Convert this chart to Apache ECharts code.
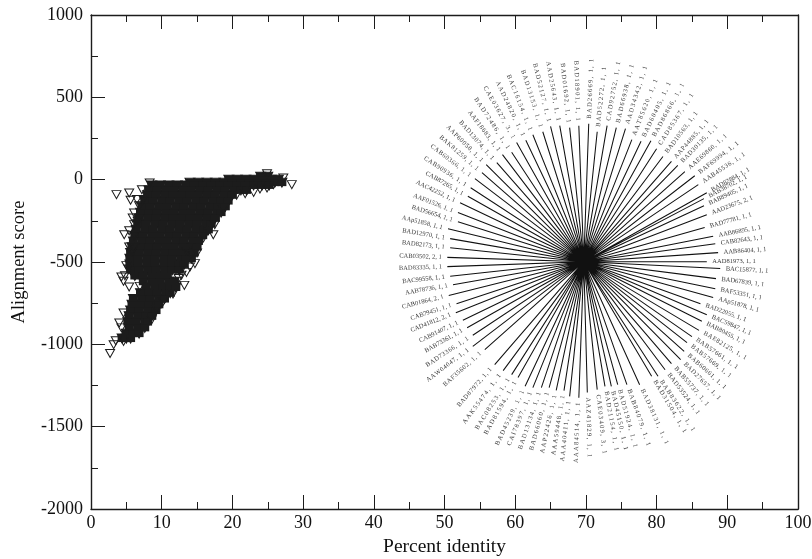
<!DOCTYPE html>
<html><head><meta charset="utf-8">
<style>html,body{margin:0;padding:0;background:#fff}#c{width:812px;height:559px}</style>
<script src="https://cdn.jsdelivr.net/npm/echarts@6/dist/echarts.min.js"></script>
</head><body><div id="c"></div>
<script>
const xTicks=[0,100], yRange=[-2000,1000];
const xTitle='Percent identity', yTitle='Alignment score';
// densely overplotted body of the cloud: row score, then percent identities
const bodyRows=[
[18,[24,25]],
[0,[19.5,20.7,21.9,23.1,24.3,25.5,26.5]],
[-18,[14,15.2,16.4,17.6,18.8,20,21.2,22.4,23.6,24.8,26,27]],
[-35,[8.6,9.8,11,12.2,13.4,14.6,15.8,17,18.2,19.4,20.6,21.8,23,24.2,25.2]],
[-65,[8.2,9.4,10.6,11.8,13,14.2,15.4,16.6,17.8,19,20.2,21.2,22]],
[-95,[8,9.2,10.4,11.6,12.8,14,15.2,16.4,17.6,18.8,20]],
[-130,[7.6,8.8,10,11.2,12.4,13.6,14.8,16,17.2,18.4,19.4]],
[-165,[7.2,8.4,9.6,10.8,12,13.2,14.4,15.6,16.8,18,19]],
[-200,[7,8.2,9.4,10.6,11.8,13,14.2,15.4,16.6,17.8,18.4]],
[-235,[6.8,8,9.2,10.4,11.6,12.8,14,15.2,16.4,17.6]],
[-270,[6.6,7.8,9,10.2,11.4,12.6,13.8,15,16.2,17]],
[-305,[6.4,7.6,8.8,10,11.2,12.4,13.6,14.8,16,16.6]],
[-340,[6.2,7.4,8.6,9.8,11,12.2,13.4,14.6,15.8]],
[-375,[6,7.2,8.4,9.6,10.8,12,13.2,14.4,15.2]],
[-410,[5.8,7,8.2,9.4,10.6,11.8,13,14.2,15]],
[-445,[5.6,6.8,8,9.2,10.4,11.6,12.8,14,14.6]],
[-480,[5.5,6.7,7.9,9.1,10.3,11.5,12.7,13.5,14.2]],
[-515,[5.5,6.7,7.9,9.1,10.3,11.5,12.4,13.2]],
[-550,[5.6,6.8,8,9.2,10.4,11.5,12.5]],
[-585,[6.2,7.4,8.6,9.8,10.8]],
[-620,[7.4,8.6,9.8,11,11.8]],
[-655,[7.8,9,10.2,11.2,12]],
[-690,[7,8.2,9.4,10.6,11.2]],
[-725,[6,7.2,8.4,9.6,10.4]],
[-760,[5.8,7,8.2,9.4,9.6]],
[-795,[5.6,6.8,8,9.2]],
[-830,[5.4,6.6,7.8,8.6]],
[-865,[5.2,6.4,7.6,8]],
[-900,[5.4,6.6,7.6]],
[-935,[5,6,6.8]],
[-965,[4.4,5,5.6]]
];
// separately visible open markers along the edge of the cloud
const edgeX=[3.6,5.4,5.6,6.5,7.2,7.4,8.3,6.8,6.1,5.9,6.6,6.1,4.7,5.4,6.1,5.4,5.8,6.1,5,5.3,4.3,4.6,4.8,5.4,6.9,13.2,13.5,14.7,13.5,14.2,15,17.3,18.7,17.5,15.9,11.6,10.2,8.6,9.3,4,4.3,4.6,2.7,3.2,3.5,4.6,28.4,27.2,24.9,25.8,24.9,23.9,23,21.8,20.6,12.4,14,12.8,16.6];
const edgeY=[-91,-81,-125,-121,-61,-121,-20,-158,-202,-233,-253,-273,-334,-310,-340,-409,-435,-415,-522,-542,-591,-617,-583,-652,-648,-642,-563,-510,-435,-455,-445,-334,-182,-273,-354,-694,-739,-850,-789,-870,-900,-810,-1056,-1002,-978,-982,-30,10,36,-30,-51,-57,-77,-85,-95,-600,-530,-580,-310];
// star-shaped block: hub and the end of each spoke with its label, clockwise from the top
const hub=[69.7,-498];
const spokeLabels=['BAD18901, 1, 1','BAD26669, 1, 1','BAD52272, 1, 1','CAD92752, 1, 1','BAD66938, 1, 1','AAD34342, 1, 1','AAT85620, 1, 1','BAD60405, 1, 1','BAD86866, 1, 1','CAD85367, 1, 1','BAD10563, 1, 1','AAP44885, 1, 1','BAD30135, 1, 1','AAE69860, 1, 1','BAF69994, 1, 1','AAB45536, 1, 1','BAD82884, 1, 1','BAB38702, 1, 1','BAB89405, 1, 1','AAD23675, 2, 1','BAD77781, 1, 1','AAB86895, 1, 1','CAB82643, 1, 1','AAB86404, 1, 1','AAD81973, 1, 1','BAC15877, 1, 1','BAD67839, 1, 1','BAF53351, 1, 1','AAp51878, 1, 1','BAD22055, 1, 1','BAC59847, 1, 1','BAB80455, 1, 1','BAE82125, 1, 1','BAB57661, 1, 1','BAB57669, 1, 1','BAB60661, 1, 1','BAD27657, 1, 1','BAB55737, 1, 1','BAD53524, 1, 1','BAB83622, 1, 1','BAD31504, 1, 1','BAD38131, 1, 1','BAB84079, 1, 1','BAD51924, 1, 1','BAD45150, 1, 1','BAD21154, 1, 1','CAE03409, 3, 1','AAZ41829, 1, 1','AAA84514, 1, 1','AAA40411, 1, 1','AAA59448, 1, 1','AAP22426, 1, 1','BAD66060, 1, 1','BAD13134, 1, 1','CAI78397, 1, 1','BAD45239, 1, 1','BAD81594, 1, 1','BAC08253, 1, 1','AAK55474, 1, 1','BAD87972, 1, 1','BAF35602, 1, 1','AAW04047, 1, 1','BAD73366, 1, 1','BAB73361, 1, 1','CAB91407, 1, 1','CAD41812, 2, 1','CAB79451, 1, 1','CAB01864, 2, 1','AAB78736, 1, 1','BAC99558, 1, 1','BAD83335, 1, 1','CAB03502, 2, 1','BAD82173, 1, 1','BAD12970, 1, 1','AAp51858, 1, 1','BAD56654, 1, 1','AAF01526, 1, 1','AAC42252, 1, 1','CAB87265, 1, 1','CAB90936, 1, 1','CAB60366, 1, 1','BAK81259, 1, 1','AAP60058, 1, 1','BAD13074, 1, 1','AAF18683, 1, 1','BAD72486, 1, 1','CAE03627, 3, 1','AAD24820, 1, 1','BAC16154, 1, 1','BAD13153, 1, 1','BAD52127, 1, 1','AAD25643, 1, 1','BAD01692, 1, 1'];
const spokeX=[69,70.4,71.6,73,74.3,75.6,76.5,77.8,79.2,80,80.9,82.1,83,84,85.4,85.9,87.1,86.7,86.7,87.1,86.8,88,88.3,88.7,87.1,89,88.4,88.3,88,86.2,87.1,86.4,86,85,84.3,83.9,83.4,82.1,81.2,80.2,79.3,77.6,75.8,74.5,73.6,72.7,71.6,70.2,69,67.7,66.9,65.8,64.8,63.7,62.5,61.4,60.4,59.5,58.3,57.1,55.7,54,54,53.2,52.6,51.6,51.7,50.6,51.2,50.8,50.4,50.4,50.8,50.8,50.5,51.9,51.9,52.2,53.3,53.7,54.3,55.3,55.9,57.4,58.2,59.5,60.2,61.5,62.5,63.9,65,66.3,67.7];
const spokeY=[328,340,291,328,316,310,243,233,237,188,141,111,87,49,24,-30,-79,-115,-158,-213,-291,-344,-389,-443,-498,-540,-601,-662,-716,-753,-820,-860,-915,-953,-990,-1043,-1093,-1117,-1154,-1194,-1194,-1245,-1245,-1245,-1255,-1255,-1275,-1293,-1324,-1316,-1281,-1279,-1263,-1263,-1263,-1255,-1202,-1184,-1160,-1123,-1032,-1012,-945,-899,-854,-808,-753,-703,-638,-587,-528,-472,-413,-358,-298,-255,-200,-140,-101,-49,6,43,91,103,152,166,226,239,273,291,324,328,316];

const FONT='"Liberation Serif","Times New Roman",serif', INK='#1c1c1c';
const grid={left:91,right:14,top:15,bottom:50,outerBoundsMode:'none'};
const pxX=(812-grid.left-grid.right)/100, pxY=(559-grid.top-grid.bottom)/3000;
const body=[]; bodyRows.forEach(r=>r[1].forEach(x=>body.push([x,r[0]])));
const edge=edgeX.map((x,i)=>[x,edgeY[i]]);
const rays=[]; spokeX.forEach((x,i)=>{rays.push(hub,[x,spokeY[i]],['-','-']);});
// near-vertical labels are letter-spaced in the reference
function spaced(s,sinA){
  const a=Math.abs(sinA), gap=a>0.8?'\u2009':a>0.5?'\u200A':'';
  return s.split('').join(gap);
}
const labels=spokeX.map((x,i)=>{
  const dx=(x-hub[0])*pxX, dy=(spokeY[i]-hub[1])*pxY;
  const len=Math.hypot(dx,dy), k=(len+5)/len;
  const deg=Math.atan2(dy,dx)*180/Math.PI, right=dx>=0;
  return {value:[hub[0]+(x-hub[0])*k,hub[1]+(spokeY[i]-hub[1])*k],
    label:{show:true,position:right?'right':'left',distance:0,rotate:right?deg:deg-180,
      formatter:spaced(spokeLabels[i],dy/len),fontFamily:FONT,fontSize:6.5,color:'#000'}};
});
const axisText={fontFamily:FONT,fontSize:18,color:'#111'};
const lineStyle={color:INK,width:1.4};
const plain=v=>String(v);
const chart=echarts.init(document.getElementById('c'),null,{renderer:'canvas'});
chart.setOption({
  animation:false,
  grid:Object.assign({show:false},grid),
  xAxis:[
   {type:'value',min:xTicks[0],max:xTicks[1],interval:10,position:'bottom',
    axisLine:{show:true,onZero:false,lineStyle},axisTick:{show:true,inside:true,length:14,lineStyle:{color:INK,width:1}},
    minorTick:{show:true,splitNumber:2,length:7,lineStyle:{color:INK,width:1}},splitLine:{show:false},
    axisLabel:Object.assign({margin:5,showMinLabel:true,showMaxLabel:true,hideOverlap:false,formatter:plain},axisText),
    name:xTitle,nameLocation:'middle',nameGap:24,nameTextStyle:Object.assign({},axisText,{fontSize:19.5})},
   {type:'value',min:xTicks[0],max:xTicks[1],interval:10,position:'top',
    axisLine:{show:true,onZero:false,lineStyle},axisTick:{show:true,inside:true,length:14,lineStyle:{color:INK,width:1}},
    minorTick:{show:true,splitNumber:2,length:7,lineStyle:{color:INK,width:1}},splitLine:{show:false},axisLabel:{show:false}}
  ],
  yAxis:[
   {type:'value',min:yRange[0],max:yRange[1],interval:500,position:'left',
    axisLine:{show:true,onZero:false,lineStyle},axisTick:{show:true,inside:true,length:14,lineStyle:{color:INK,width:1}},
    minorTick:{show:true,splitNumber:2,length:7,lineStyle:{color:INK,width:1}},splitLine:{show:false},
    axisLabel:Object.assign({margin:8,showMinLabel:true,showMaxLabel:true,hideOverlap:false,formatter:plain},axisText),
    name:yTitle,nameLocation:'middle',nameGap:62,nameRotate:90,nameTextStyle:Object.assign({},axisText,{fontSize:18.5})},
   {type:'value',min:yRange[0],max:yRange[1],interval:500,position:'right',
    axisLine:{show:true,onZero:false,lineStyle},axisTick:{show:false},splitLine:{show:false},axisLabel:{show:false}}
  ],
  series:[
   {type:'scatter',name:'cloud body',data:body,symbol:'triangle',symbolRotate:180,symbolSize:[10,9],
    itemStyle:{color:INK,borderColor:INK,borderWidth:1,opacity:1},silent:true,z:3},
   {type:'scatter',name:'cloud body fill',data:body,symbol:'rect',symbolSize:[9,7],
    itemStyle:{color:INK,opacity:1},silent:true,z:3},
   {type:'scatter',name:'cloud edge',data:edge,symbol:'triangle',symbolRotate:180,symbolSize:[9,8],
    itemStyle:{color:'rgba(255,255,255,0)',borderColor:INK,borderWidth:1,opacity:1},silent:true,z:4},
   {type:'line',name:'spokes',data:rays,showSymbol:false,symbol:'none',connectNulls:false,
    lineStyle:{color:'#111',width:1.05},silent:true,z:2},
   {type:'scatter',name:'spoke labels',data:labels,symbol:'circle',symbolSize:1,
    itemStyle:{color:'rgba(0,0,0,0)'},silent:true,z:5}
  ]
});
</script></body></html>
